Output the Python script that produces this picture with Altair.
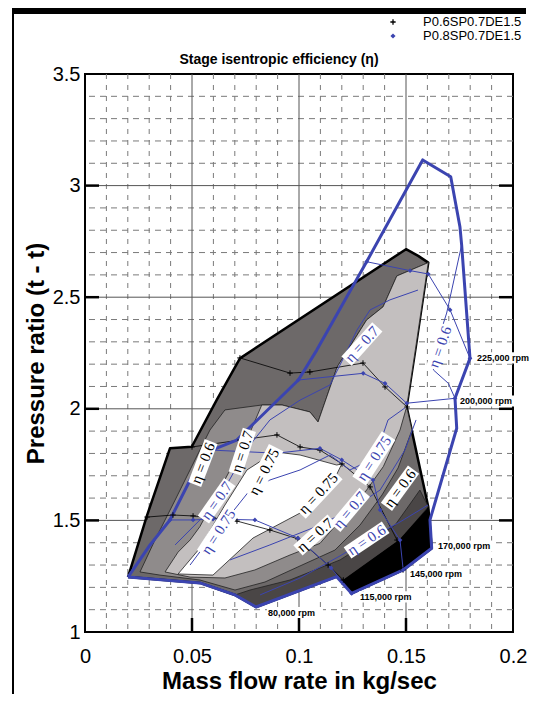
import altair as alt
import pandas as pd

BLUE = "#3b44b0"

# ---------------- axes / grid values ----------------
x_ticks = [0, 0.05, 0.1, 0.15, 0.2]
y_ticks = [1, 1.5, 2, 2.5, 3, 3.5]
x_major = [0.05, 0.1, 0.15]
y_major = [1.5, 2, 2.5, 3]
x_minor = [0.01, 0.02, 0.03, 0.04, 0.06, 0.07, 0.08, 0.09, 0.11, 0.12, 0.13, 0.14,
           0.16, 0.17, 0.18, 0.19]
y_minor = [1.1, 1.2, 1.3, 1.4, 1.6, 1.7, 1.8, 1.9, 2.1, 2.2, 2.3, 2.4, 2.6, 2.7, 2.8,
           2.9, 3.1, 3.2, 3.3, 3.4]

# ---------------- P0.6SP0.7DE1.5 : flooded efficiency regions ----------------
outer_x = [0.0201, 0.0288, 0.0397, 0.0499, 0.0615, 0.0724, 0.1500, 0.1557, 0.1604, 0.1547,
           0.1503, 0.1604, 0.1620, 0.1487, 0.1246, 0.1207, 0.1176, 0.0799, 0.0701, 0.0537]
outer_y = [1.246, 1.517, 1.823, 1.830, 2.039, 2.226, 2.715, 2.685, 2.655, 2.286,
           2.009, 1.561, 1.375, 1.278, 1.173, 1.230, 1.248, 1.112, 1.166, 1.220]

mid_x = [0.0654, 0.0826, 0.0921, 0.1051, 0.1089, 0.1178, 0.1316, 0.1393, 0.1457, 0.1604,
         0.1547, 0.1503, 0.1528, 0.1463, 0.1388, 0.1285, 0.1168, 0.1005, 0.0841, 0.0701,
         0.0537, 0.0350, 0.0257, 0.0327, 0.0421, 0.0514, 0.0584]
mid_y = [1.995, 2.017, 2.017, 1.986, 1.941, 2.187, 2.398, 2.457, 2.595, 2.655,
         2.286, 2.009, 1.905, 1.735, 1.614, 1.479, 1.367, 1.296, 1.224, 1.188,
         1.233, 1.255, 1.269, 1.412, 1.591, 1.771, 1.905]

light_x = [0.0826, 0.0921, 0.1051, 0.1089, 0.1178, 0.1316, 0.1393, 0.1457, 0.1604, 0.1547,
           0.1503, 0.1472, 0.1394, 0.1316, 0.1207, 0.1098, 0.0958, 0.0794, 0.0654, 0.0491,
           0.0374, 0.0435, 0.0491, 0.0537, 0.0678, 0.0756]
light_y = [2.017, 2.017, 1.986, 1.941, 2.187, 2.398, 2.457, 2.595, 2.655, 2.286,
           2.009, 1.905, 1.741, 1.636, 1.517, 1.397, 1.345, 1.278, 1.242, 1.246,
           1.269, 1.358, 1.412, 1.472, 1.726, 1.860]

white_x = [0.0757, 0.0888, 0.1005, 0.1176, 0.1200, 0.1145, 0.1005, 0.0785, 0.0598, 0.0435,
           0.0537, 0.0654]
white_y = [1.726, 1.807, 1.793, 1.748, 1.753, 1.645, 1.533, 1.421, 1.255, 1.260,
           1.376, 1.569]

darkband_x = [0.0701, 0.0799, 0.1176, 0.1207, 0.1472, 0.1604, 0.1565, 0.1449, 0.1192, 0.0958, 0.0771]
darkband_y = [1.166, 1.112, 1.248, 1.230, 1.412, 1.561, 1.636, 1.479, 1.323, 1.233, 1.188]

black_x = [0.1207, 0.1472, 0.1604, 0.1620, 0.1487, 0.1246]
black_y = [1.230, 1.412, 1.554, 1.375, 1.278, 1.173]

# ---------------- P0.8SP0.7DE1.5 : map boundary ----------------
bound_x = [0.0201, 0.0304, 0.0397, 0.0491, 0.0592, 0.0709, 0.0997, 0.1083, 0.1316, 0.1578,
           0.1709, 0.1752, 0.1760, 0.1799, 0.1729, 0.1737, 0.1612, 0.1620, 0.1487, 0.1246,
           0.1176, 0.0799, 0.0701, 0.0537]
bound_y = [1.246, 1.390, 1.502, 1.681, 1.815, 1.860, 2.129, 2.263, 2.659, 3.115,
           3.040, 2.816, 2.734, 2.226, 2.047, 1.913, 1.502, 1.375, 1.278, 1.173,
           1.248, 1.112, 1.166, 1.220]

# ---------------- speed lines ----------------
k115_x = [0.0290, 0.0411, 0.0505, 0.0598, 0.0710, 0.0864, 0.0995, 0.1136, 0.1207]
k115_y = [1.515, 1.524, 1.520, 1.511, 1.497, 1.457, 1.417, 1.300, 1.233]
k145_x = [0.0500, 0.0724, 0.0897, 0.1005, 0.1098, 0.1201, 0.1332, 0.1458, 0.1486]
k145_y = [1.829, 1.860, 1.883, 1.829, 1.815, 1.753, 1.650, 1.412, 1.278]
k200_x = [0.0724, 0.0958, 0.1051, 0.1299, 0.1402, 0.1505]
k200_y = [2.228, 2.160, 2.165, 2.205, 2.098, 2.008]

b115_x = [0.0397, 0.0505, 0.0598, 0.0794, 0.0995, 0.1150, 0.1246]
b115_y = [1.502, 1.502, 1.506, 1.502, 1.421, 1.287, 1.173]
b145_x = [0.0592, 0.0896, 0.1098, 0.1200, 0.1346, 0.1379, 0.1472, 0.1487]
b145_y = [1.815, 1.801, 1.823, 1.771, 1.681, 1.547, 1.412, 1.278]
b200_x = [0.0997, 0.1300, 0.1402, 0.1503, 0.1729]
b200_y = [2.129, 2.159, 2.114, 2.025, 2.047]
b225_x = [0.1316, 0.1519, 0.1604, 0.1706, 0.1799]
b225_y = [2.659, 2.619, 2.604, 2.443, 2.226]

# ---------------- blue efficiency contours ----------------
c07a_x = [0.1005, 0.1145, 0.1215, 0.1271, 0.1332, 0.1425, 0.1556]
c07a_y = [2.039, 2.107, 2.241, 2.353, 2.443, 2.488, 2.532]
c075_x = [0.0491, 0.0561, 0.0607, 0.0678, 0.0771, 0.0864, 0.1005, 0.1145, 0.1238, 0.1355, 0.1416, 0.1495]
c075_y = [1.300, 1.390, 1.435, 1.524, 1.636, 1.681, 1.726, 1.793, 1.726, 1.780, 1.950, 2.004]
c07b_x = [0.0678, 0.0864, 0.1098, 0.1238, 0.1379, 0.1495, 0.1547]
c07b_y = [1.323, 1.390, 1.479, 1.547, 1.636, 1.815, 1.950]
c06b_x = [0.1760, 0.1690, 0.1643, 0.1628, 0.1698, 0.1729]
c06b_y = [2.734, 2.429, 2.286, 2.174, 2.114, 2.047]
c06c_x = [0.0818, 0.1005, 0.1192, 0.1316, 0.1472, 0.1603]
c06c_y = [1.166, 1.242, 1.341, 1.412, 1.493, 1.569]
c07c_x = [0.0421, 0.0537, 0.0615, 0.0701, 0.0771, 0.0864, 0.1005]
c07c_y = [1.390, 1.502, 1.578, 1.726, 1.838, 1.950, 2.039]

# ---------------- contour labels ----------------
eta_text = ["η = 0.6", "η = 0.7", "η = 0.75", "η = 0.75", "η = 0.7", "η = 0.6",
            "η = 0.7", "η = 0.6", "η = 0.75", "η = 0.7", "η = 0.6", "η = 0.7", "η = 0.75"]
eta_x = [0.0551, 0.0735, 0.0836, 0.1090, 0.1075, 0.1472,
         0.1294, 0.1659, 0.1350, 0.1238, 0.1316, 0.0615, 0.0623]
eta_y = [1.757, 1.808, 1.718, 1.621, 1.435, 1.644,
         2.290, 2.277, 1.778, 1.547, 1.412, 1.588, 1.449]
eta_angle = [291, 288, 297, 313, 318, 306,
             312, 289, 303, 310, 326, 305, 303]
eta_color = ["black"] * 6 + [BLUE] * 7

rpm_text = ["225,000 rpm", "200,000 rpm", "170,000 rpm", "145,000 rpm", "115,000 rpm", "80,000 rpm"]
rpm_x = [0.1832, 0.1752, 0.1650, 0.1519, 0.1285, 0.0855]
rpm_y = [2.228, 2.035, 1.385, 1.260, 1.157, 1.087]

legend_text = ["P0.6SP0.7DE1.5", "P0.8SP0.7DE1.5"]

# ---------------- helpers ----------------
XS = alt.Scale(domain=[0, 0.2], nice=False, zero=False)
YS = alt.Scale(domain=[1, 3.5], nice=False, zero=False)
AX = alt.Axis(values=x_ticks, format="~g", grid=False, ticks=False, domain=False,
              labelFontSize=20, labelFont="Liberation Sans", labelColor="black",
              labelPadding=14, labelFlush=False,
              title="Mass flow rate in kg/sec", titleFont="Liberation Sans",
              titleFontSize=24, titleFontWeight="bold", titleColor="black", titlePadding=3)
AY = alt.Axis(values=y_ticks, format="~g", grid=False, ticks=False, domain=False,
              labelFontSize=20, labelFont="Liberation Sans", labelColor="black",
              labelPadding=5, labelFlush=False,
              title="Pressure ratio (t - t)", titleFont="Liberation Sans",
              titleFontSize=24, titleFontWeight="bold", titleColor="black", titlePadding=4)


def X():
    return alt.X("x:Q", scale=XS, axis=AX)


def Y():
    return alt.Y("y:Q", scale=YS, axis=AY)


def poly(xs, ys, fill, stroke, sw):
    df = pd.DataFrame({"x": xs + xs[:1], "y": ys + ys[:1], "o": list(range(len(xs) + 1))})
    return alt.Chart(df).mark_line(fill=fill, stroke=stroke, strokeWidth=sw,
                                   strokeJoin="round").encode(x=X(), y=Y(), order="o:Q")


def outline(xs, ys, color, sw):
    df = pd.DataFrame({"x": xs + xs[:1], "y": ys + ys[:1], "o": list(range(len(xs) + 1))})
    return alt.Chart(df).mark_line(color=color, strokeWidth=sw,
                                   strokeJoin="round").encode(x=X(), y=Y(), order="o:Q")


def lines(pairs, color, sw):
    frames = []
    for i, (xs, ys) in enumerate(pairs):
        frames.append(pd.DataFrame({"x": xs, "y": ys, "o": list(range(len(xs))), "id": i}))
    df = pd.concat(frames, ignore_index=True)
    return alt.Chart(df).mark_line(color=color, strokeWidth=sw).encode(
        x=X(), y=Y(), order="o:Q", detail="id:N")


def pts(pairs):
    xs, ys = [], []
    for a, b in pairs:
        xs += a
        ys += b
    return pd.DataFrame({"x": xs, "y": ys})


one = pd.DataFrame({"a": [0]})

layers = []
# grid
layers.append(alt.Chart(pd.DataFrame({"x": x_minor})).mark_rule(
    color="#7a7a7a", strokeWidth=1, strokeDash=[5, 6]).encode(x=X()))
layers.append(alt.Chart(pd.DataFrame({"y": y_minor})).mark_rule(
    color="#7a7a7a", strokeWidth=1, strokeDash=[6, 5]).encode(y=Y()))
layers.append(alt.Chart(pd.DataFrame({"x": x_major})).mark_rule(
    color="#555555", strokeWidth=1).encode(x=X()))
layers.append(alt.Chart(pd.DataFrame({"y": y_major})).mark_rule(
    color="#555555", strokeWidth=1).encode(y=Y()))

# flooded regions
layers.append(poly(outer_x, outer_y, "#6d6969", "black", 2.5))
layers.append(poly(mid_x, mid_y, "#8f8b8b", "#222222", 0.8))
layers.append(poly(light_x, light_y, "#c3bfbf", "#222222", 0.8))
layers.append(poly(white_x, white_y, "#ffffff", "#222222", 0.8))
layers.append(poly(darkband_x, darkband_y, "#4a4646", "#222222", 0.8))
layers.append(poly(black_x, black_y, "#000000", "black", 1.5))

# black speed lines
kl = [(k115_x, k115_y), (k145_x, k145_y), (k200_x, k200_y)]
layers.append(lines(kl, "black", 0.8))
# blue contours and speed lines
cl = [(c07a_x, c07a_y), (c075_x, c075_y), (c07b_x, c07b_y), (c06b_x, c06b_y),
      (c06c_x, c06c_y), (c07c_x, c07c_y)]
layers.append(lines(cl, BLUE, 1.0))
bl = [(b115_x, b115_y), (b145_x, b145_y), (b200_x, b200_y), (b225_x, b225_y)]
layers.append(lines(bl, BLUE, 1.0))

# outer outline of the P0.8 map
layers.append(outline(bound_x, bound_y, BLUE, 3))

# markers
PLUS = "M-1,0L1,0M0,-1L0,1"
layers.append(alt.Chart(pts(kl)).mark_point(shape=PLUS, filled=False, color="black", size=30,
                                            strokeWidth=1, opacity=1).encode(x=X(), y=Y()))
layers.append(alt.Chart(pts(bl)).mark_point(shape="diamond", filled=True, color=BLUE, size=22,
                                            opacity=1).encode(x=X(), y=Y()))

# contour labels
eta_df = pd.DataFrame({"x": eta_x, "y": eta_y, "t": eta_text, "a": eta_angle, "c": eta_color,
                       "s": [(54 if len(t) > 7 else 46) ** 2 for t in eta_text]})
layers.append(alt.Chart(eta_df).mark_point(shape="M-1,-0.3L1,-0.3L1,0.3L-1,0.3Z", filled=True,
                                           color="white", opacity=1, strokeWidth=0).encode(
    x=X(), y=Y(), angle=alt.Angle("a:Q", scale=None), size=alt.Size("s:Q", scale=None)))
layers.append(alt.Chart(eta_df).mark_text(font="Liberation Serif", fontSize=15, align="center",
                                          baseline="middle").encode(
    x=X(), y=Y(), text="t:N", angle=alt.Angle("a:Q", scale=None),
    color=alt.Color("c:N", scale=None)))

# rpm labels
rpm_df = pd.DataFrame({"x": rpm_x, "y": rpm_y, "t": rpm_text})
layers.append(alt.Chart(rpm_df).mark_point(shape="M-1,-0.2L1,-0.2L1,0.2L-1,0.2Z", filled=True,
                                           color="white", opacity=1, size=56 ** 2, xOffset=27,
                                           strokeWidth=0).encode(x=X(), y=Y()))
layers.append(alt.Chart(rpm_df).mark_text(font="Liberation Sans", fontWeight="bold", fontSize=9,
                                          align="left", baseline="middle", color="black").encode(
    x=X(), y=Y(), text="t:N"))

# inward axis ticks
layers.append(alt.Chart(pd.DataFrame({"y": y_major})).mark_rule(color="black", strokeWidth=2.5)
              .encode(y=Y(), x=alt.value(0), x2=alt.value(14)))
layers.append(alt.Chart(pd.DataFrame({"y": y_major})).mark_rule(color="black", strokeWidth=2.5)
              .encode(y=Y(), x=alt.value(414), x2=alt.value(428)))
layers.append(alt.Chart(pd.DataFrame({"x": x_major})).mark_rule(color="black", strokeWidth=2.5)
              .encode(x=X(), y=alt.value(544), y2=alt.value(558)))

# title, legend, frame
layers.append(alt.Chart(one).mark_text(text="Stage isentropic efficiency (η)", font="Liberation Sans",
                                       fontSize=14, fontWeight="bold", color="black",
                                       align="center", baseline="middle")
              .encode(x=alt.value(194), y=alt.value(-14)))
layers.append(alt.Chart(one).mark_point(shape=PLUS, filled=False, color="black", size=28,
                                        strokeWidth=1.3, opacity=1)
              .encode(x=alt.value(308), y=alt.value(-52)))
layers.append(alt.Chart(one).mark_point(shape="diamond", filled=True, color=BLUE, size=26, opacity=1)
              .encode(x=alt.value(308), y=alt.value(-38)))
layers.append(alt.Chart(one).mark_text(text=legend_text[0], font="Liberation Sans", fontSize=13,
                                       color="black", align="left", baseline="middle")
              .encode(x=alt.value(338), y=alt.value(-52)))
layers.append(alt.Chart(one).mark_text(text=legend_text[1], font="Liberation Sans", fontSize=13,
                                       color="black", align="left", baseline="middle")
              .encode(x=alt.value(338), y=alt.value(-38)))
layers.append(alt.Chart(one).mark_rule(color="black", strokeWidth=2)
              .encode(x=alt.value(-72), y=alt.value(-64), y2=alt.value(620)))
# top frame line drawn as a long thin bar symbol
layers.append(alt.Chart(one).mark_point(shape="M-1,-0.012L1,-0.012L1,0.012L-1,0.012Z", filled=True,
                                        color="black", opacity=1, size=514 ** 2, strokeWidth=0)
              .encode(x=alt.value(184), y=alt.value(-63)))

chart = alt.layer(*layers).properties(
    width=428, height=558,
    autosize=alt.AutoSizeParams(type="none"),
    padding={"left": 77, "top": 66, "right": 21, "bottom": 62},
    background="white",
).configure_view(stroke="black", strokeWidth=2)

chart.save("out.html", embed_options={"renderer": "svg", "actions": False})
